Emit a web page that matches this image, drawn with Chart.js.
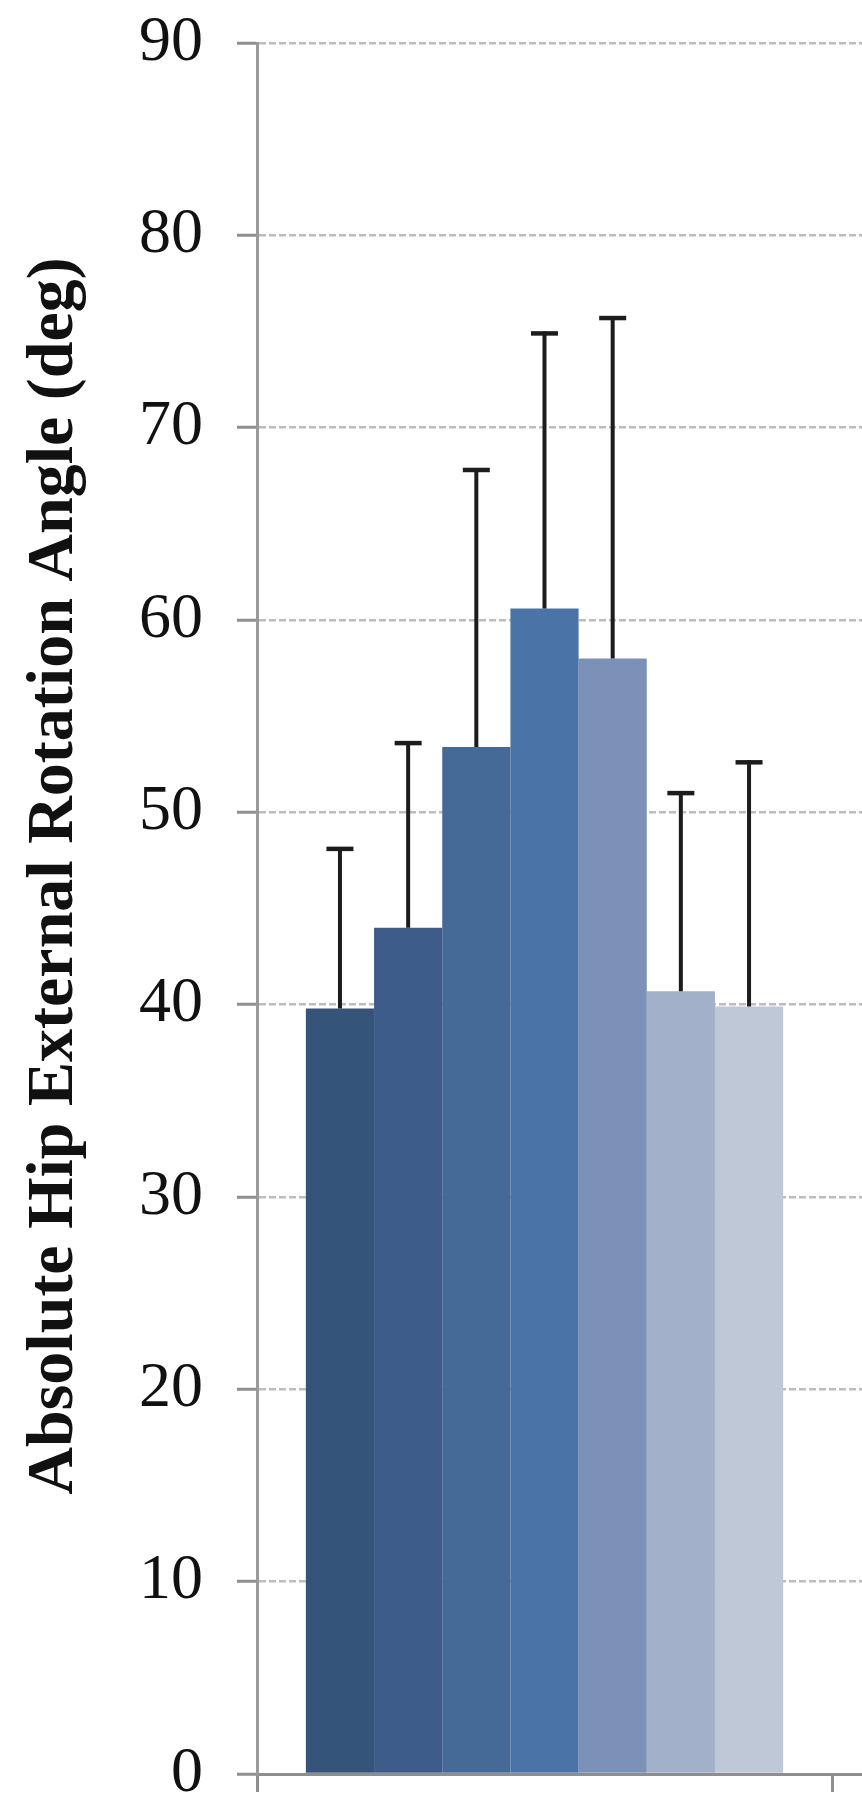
<!DOCTYPE html>
<html>
<head>
<meta charset="utf-8">
<script src="https://cdn.jsdelivr.net/npm/chart.js@4.4.1/dist/chart.umd.min.js"></script>
<style>
  html, body { margin: 0; padding: 0; background: #ffffff; overflow: hidden; }
  #wrap { width: 1407px; height: 1797px; }
</style>
</head>
<body>
<div id="wrap"><canvas id="chart" width="1407" height="1797"></canvas></div>
<script>
// Group labels on the x axis (second group is empty)
const categories = ['', ''];

// Mean absolute hip external rotation angle per condition (deg)
const meanValues = [39.8, 44.0, 53.4, 60.6, 58.0, 40.7, 39.9];

// Standard deviation per condition (deg)
const sdValues = [8.3, 9.6, 14.4, 14.3, 17.7, 10.3, 12.7];

// Bar fill colours, dark to light blue
const barColors = ['#34547a', '#3d5c89', '#466a98', '#4a74a7', '#7b91b7', '#a3b0c9', '#bec8d6'];

// Y axis tick values
const yTicks = [0, 10, 20, 30, 40, 50, 60, 70, 80, 90];

const yTitle = 'Absolute Hip External Rotation Angle (deg)';

const datasets = meanValues.map((v, i) => ({
  label: 'Condition ' + (i + 1),
  data: [v, null],
  sd: sdValues[i],
  backgroundColor: barColors[i],
  borderWidth: 0,
  categoryPercentage: 0.83,
  barPercentage: 1.0
}));

// Upper error whiskers drawn from each bar top to mean + SD
const errorBars = {
  id: 'errorBars',
  afterDatasetsDraw(chart) {
    const ctx = chart.ctx;
    const y = chart.scales.y;
    ctx.save();
    ctx.strokeStyle = '#1c1c1c';
    ctx.lineCap = 'butt';
    chart.data.datasets.forEach((ds, i) => {
      const meta = chart.getDatasetMeta(i);
      const bar = meta.data[0];
      if (!bar) return;
      const top = y.getPixelForValue(ds.data[0] + ds.sd);
      ctx.lineWidth = 4;
      ctx.beginPath();
      ctx.moveTo(bar.x, bar.y);
      ctx.lineTo(bar.x, top - 2);
      ctx.stroke();
      ctx.lineWidth = 4.5;
      ctx.beginPath();
      ctx.moveTo(bar.x - 13.5, top);
      ctx.lineTo(bar.x + 13.5, top);
      ctx.stroke();
    });
    ctx.restore();
  }
};

// Rotated y-axis title
const yAxisTitle = {
  id: 'yAxisTitle',
  afterDraw(chart) {
    const ctx = chart.ctx;
    const area = chart.chartArea;
    const cy = area.top + (area.bottom - area.top) * 0.4812;
    ctx.save();
    ctx.translate(72, cy);
    ctx.rotate(-Math.PI / 2);
    ctx.font = 'bold 66px "Liberation Serif", "Times New Roman", serif';
    ctx.fillStyle = '#111111';
    ctx.textAlign = 'center';
    ctx.textBaseline = 'alphabetic';
    ctx.fillText(yTitle, 0, 0);
    ctx.restore();
  }
};

new Chart(document.getElementById('chart'), {
  type: 'bar',
  data: { labels: categories, datasets: datasets },
  options: {
    responsive: false,
    animation: false,
    devicePixelRatio: 1,
    layout: { padding: { top: 43, right: 0, bottom: 0, left: 0 } },
    plugins: {
      legend: { display: false },
      tooltip: { enabled: false }
    },
    scales: {
      x: {
        offset: true,
        grid: {
          offset: true,
          drawOnChartArea: false,
          drawTicks: true,
          tickLength: 18,
          tickColor: '#8e8e8e',
          tickWidth: 3
        },
        border: { display: true, color: '#8e8e8e', width: 3 },
        ticks: { display: false },
        afterFit(scale) {
          scale.height = 23;
          scale.paddingLeft = 0;
          scale.paddingRight = 0;
        }
      },
      y: {
        min: 0,
        max: 90,
        afterBuildTicks(scale) { scale.ticks = yTicks.map(v => ({ value: v })); },
        ticks: {
          stepSize: 10,
          padding: 34,
          color: '#111111',
          font: { family: '"Liberation Serif", "Times New Roman", serif', size: 64 }
        },
        grid: {
          color: '#bdbdbd',
          lineWidth: 2.5,
          drawTicks: true,
          tickLength: 20,
          tickColor: '#8e8e8e',
          tickWidth: 3,
          tickBorderDash: []
        },
        border: { display: true, color: '#9a9a9a', width: 3, dash: [7, 3] },
        title: { display: false },
        afterFit(scale) {
          scale.width = 257;
          scale.paddingTop = 0;
          scale.paddingBottom = 0;
        }
      }
    }
  },
  plugins: [errorBars, yAxisTitle]
});
</script>
</body>
</html>
